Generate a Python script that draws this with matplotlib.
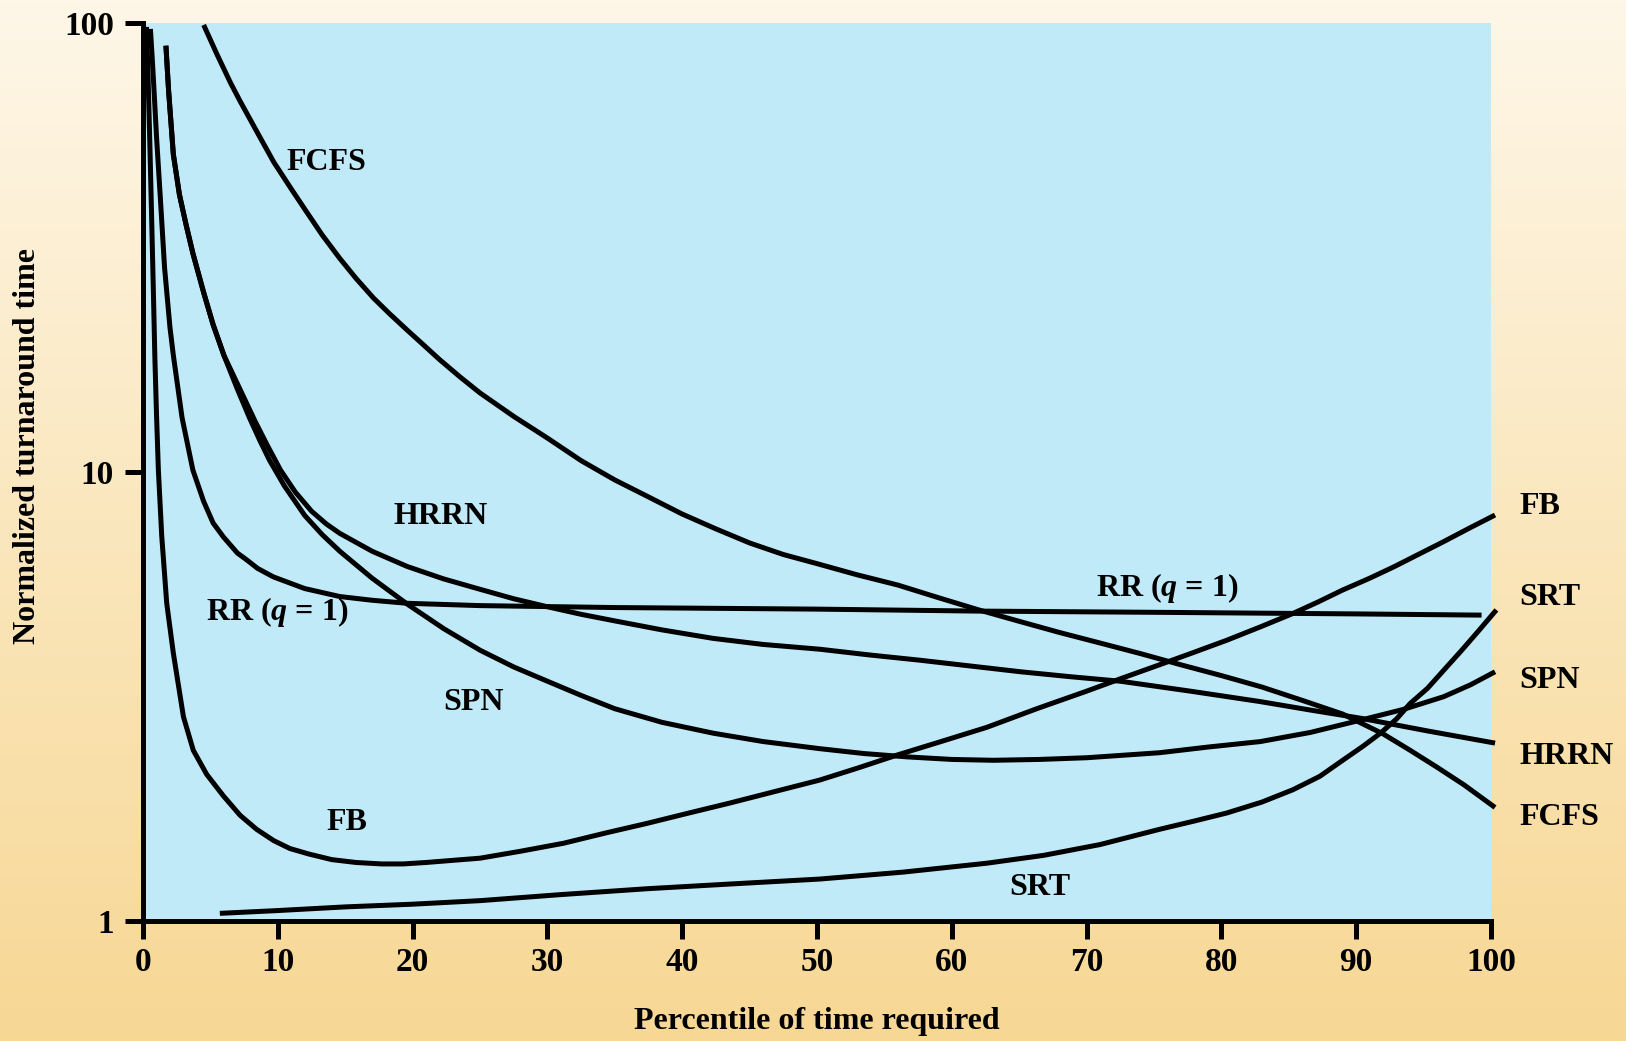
import matplotlib
matplotlib.use('Agg')
import numpy as np
import matplotlib.pyplot as plt

# curves (percentile, normalized turnaround time)
fcfs_x = [4.5, 5.5, 6.5, 7.2, 8.5, 9.7, 11.0, 12.1, 13.3, 14.6, 15.8, 17.1, 18.3, 19.6, 20.8,
          22.0, 23.5, 25.0, 27.5, 30.0, 32.5, 35.0, 37.5, 40.0, 42.5, 45.0, 47.5, 50.0, 53.0,
          56.0, 59.0, 62.0, 65.0, 68.0, 71.0, 74.0, 77.0, 80.0, 83.0, 86.0, 89.0, 92.0, 94.0,
          96.0, 98.0, 100.3]
fcfs_y = [99, 85, 73.5, 67, 56.9, 49, 42.7, 38.1, 33.7, 29.9, 27.0, 24.4, 22.5, 20.7, 19.2,
          17.8, 16.3, 15.0, 13.3, 11.9, 10.6, 9.6, 8.8, 8.06, 7.47, 6.95, 6.55, 6.25, 5.9,
          5.6, 5.25, 4.93, 4.65, 4.39, 4.16, 3.94, 3.72, 3.52, 3.32, 3.10, 2.89, 2.61, 2.40,
          2.20, 2.01, 1.79]

hrrn_x = [1.7, 1.9, 2.25, 2.7, 3.2, 3.7, 4.5, 5.2, 6.0, 7.1, 8.3, 9.2, 10.2, 11.3, 12.5, 13.6,
          14.6, 17.0, 19.6, 22.3, 25.0, 27.5, 30.0, 32.5, 35.0, 38.5, 42.3, 46.0, 50.2, 54.0,
          57.6, 61.3, 65.1, 68.8, 72.5, 77.7, 82.9, 86.6, 90.3, 95.3, 100.3]
hrrn_y = [89, 70.6, 51, 41.5, 35.5, 30.7, 25.1, 21.3, 18.2, 15.5, 13.0, 11.5, 10.1, 9.02, 8.18,
          7.66, 7.3, 6.66, 6.16, 5.78, 5.48, 5.22, 5.01, 4.82, 4.66, 4.45, 4.26, 4.13, 4.03, 3.91,
          3.81, 3.70, 3.59, 3.50, 3.42, 3.25, 3.08, 2.95, 2.83, 2.65, 2.49]

spn_x = [1.7, 1.9, 2.25, 2.7, 3.2, 3.7, 4.5, 5.2, 6.0, 7.0, 7.9, 8.7, 9.4, 10.5, 12.0, 13.3,
         14.6, 17.0, 19.6, 22.3, 25.0, 27.5, 30.0, 32.5, 35.0, 38.5, 42.3, 46.0, 50.2, 53.5,
         56.7, 60.0, 63.1, 66.5, 70.0, 75.4, 79.0, 82.9, 86.6, 90.3, 93.5, 96.5, 98.5, 100.3]
spn_y = [89, 70.6, 51, 41.5, 35.5, 30.7, 25.1, 21.3, 18.2, 15.3, 13.2, 11.7, 10.6, 9.3, 8.0, 7.25,
         6.66, 5.8, 5.08, 4.48, 4.01, 3.68, 3.42, 3.18, 2.97, 2.77, 2.62, 2.51, 2.42, 2.36,
         2.32, 2.29, 2.28, 2.29, 2.31, 2.37, 2.44, 2.51, 2.63, 2.80, 2.96, 3.16, 3.36, 3.59]

rr_x = [0.55, 0.7, 0.85, 1.0, 1.26, 1.6, 2.0, 2.25, 2.9, 3.7, 4.5, 5.2, 5.96, 7.0, 7.7, 8.5,
        9.67, 12.0, 14.6, 17.0, 19.6, 25.0, 35.0, 50.0, 62.0, 75.0, 90.0, 99.3]
rr_y = [97, 82, 68, 56, 42, 28.5, 21, 18.2, 13.2, 10.1, 8.6, 7.7, 7.17, 6.6, 6.37, 6.1,
        5.84, 5.5, 5.28, 5.18, 5.10, 5.04, 4.99, 4.95, 4.90, 4.87, 4.83, 4.80]

fb_x = [0.26, 0.38, 0.5, 0.63, 0.76, 0.88, 1.0, 1.14, 1.39, 1.76, 2.25, 3.0, 3.73, 4.73, 5.96,
        7.2, 8.43, 9.7, 10.9, 12.3, 14.0, 15.8, 17.7, 19.3, 21.0, 23.0, 25.0, 28.0, 31.2, 34.3,
        37.4, 40.5, 43.5, 46.8, 50.2, 53.0, 55.9, 59.2, 62.6, 66.3, 70.0, 72.7, 75.4, 77.9,
        80.4, 82.9, 85.3, 87.2, 89.0, 91.0, 92.8, 94.6, 96.5, 98.4, 100.3]
fb_y = [98, 75, 55, 38, 26, 18, 13.5, 10.1, 7.2, 5.1, 3.95, 2.85, 2.40, 2.12, 1.90,
        1.72, 1.60, 1.51, 1.45, 1.41, 1.37, 1.35, 1.34, 1.34, 1.35, 1.365, 1.38, 1.43, 1.49, 1.57,
        1.65, 1.74, 1.83, 1.94, 2.06, 2.19, 2.34, 2.51, 2.70, 2.97, 3.25, 3.48, 3.72, 3.96,
        4.22, 4.52, 4.84, 5.14, 5.46, 5.80, 6.15, 6.55, 7.0, 7.5, 8.02]

srt_x = [5.7, 10.0, 15.0, 20.0, 25.0, 31.0, 37.4, 43.8, 50.2, 56.4, 62.6, 66.8, 71.0, 75.4,
         78.0, 80.4, 83.0, 85.3, 87.3, 89.0, 90.5, 91.8, 93.0, 94.0, 95.3, 96.5, 97.8, 99.0, 100.4]
srt_y = [1.04, 1.055, 1.075, 1.09, 1.11, 1.145, 1.18, 1.21, 1.24, 1.285, 1.345, 1.40, 1.48, 1.60,
         1.67, 1.74, 1.84, 1.96, 2.10, 2.28, 2.45, 2.62, 2.82, 3.05, 3.30, 3.62, 4.00, 4.40, 4.93]

x_ticks = [0, 10, 20, 30, 40, 50, 60, 70, 80, 90, 100]
y_ticks = [1, 10, 100]

plt.rcParams['font.family'] = ['Liberation Serif', 'DejaVu Serif']
plt.rcParams['font.weight'] = 'bold'
plt.rcParams['mathtext.fontset'] = 'custom'
plt.rcParams['mathtext.it'] = 'Liberation Serif:italic:bold'
plt.rcParams['mathtext.rm'] = 'Liberation Serif:bold'

fig = plt.figure(figsize=(16.26, 10.41), dpi=100)

# cream-to-tan vertical gradient behind everything
bg = fig.add_axes([0, 0, 1, 1], zorder=-10)
top = np.array([254, 247, 232]) / 255
bot = np.array([247, 215, 148]) / 255
t = np.linspace(0, 1, 256)[:, None]
grad = (top * (1 - t) + bot * t)[:, None, :]
bg.imshow(grad, aspect='auto', extent=[0, 1, 0, 1])
bg.axis('off')

ax = fig.add_axes([143 / 1626, 120 / 1041, 1348 / 1626, 898 / 1041])
ax.set_facecolor('#c0eaf8')
ax.set_yscale('log')
ax.set_xlim(0, 100)
ax.set_ylim(1, 100)

lw = 3.6
for xs, ys in [(fcfs_x, fcfs_y), (hrrn_x, hrrn_y), (spn_x, spn_y),
               (rr_x, rr_y), (fb_x, fb_y), (srt_x, srt_y)]:
    ax.plot(xs, ys, color='black', lw=lw, clip_on=False,
            solid_capstyle='butt', solid_joinstyle='round')

for s in ['top', 'right']:
    ax.spines[s].set_visible(False)
for s in ['left', 'bottom']:
    ax.spines[s].set_linewidth(3.6)

ax.set_xticks(x_ticks)
ax.set_xticklabels([str(v) for v in x_ticks])
ax.set_yticks(y_ticks)
ax.set_yticklabels([str(v) for v in y_ticks])
ax.yaxis.set_minor_locator(matplotlib.ticker.NullLocator())
ax.tick_params(axis='both', direction='out', length=13, width=3.6, labelsize=24)
ax.tick_params(axis='x', pad=6)
ax.tick_params(axis='y', pad=8)

fs = 23
# labels inside the plot
ax.text(13.6, 48.8, 'FCFS', fontsize=fs, ha='center', va='center')
ax.text(22.1, 7.97, 'HRRN', fontsize=fs, ha='center', va='center')
ax.text(9.93, 4.88, 'RR ($q$ = 1)', fontsize=fs, ha='center', va='center')
ax.text(24.5, 3.06, 'SPN', fontsize=fs, ha='center', va='center')
ax.text(15.1, 1.66, 'FB', fontsize=fs, ha='center', va='center')
ax.text(76.0, 5.52, 'RR ($q$ = 1)', fontsize=fs, ha='center', va='center')
ax.text(66.5, 1.19, 'SRT', fontsize=fs, ha='center', va='center')

# labels at the right end of the curves
for name, yv in [('FB', 8.36), ('SRT', 5.26), ('SPN', 3.44), ('HRRN', 2.33), ('FCFS', 1.70)]:
    ax.text(102.1, yv, name, fontsize=fs, ha='left', va='center', clip_on=False)

fig.text(817 / 1626, 1 - 1021 / 1041, 'Percentile of time required', fontsize=fs,
         ha='center', va='center')
fig.text(28 / 1626, 1 - 446 / 1041, 'Normalized turnaround time', fontsize=fs,
         ha='center', va='center', rotation=90)

fig.savefig('out.png', dpi=100)
